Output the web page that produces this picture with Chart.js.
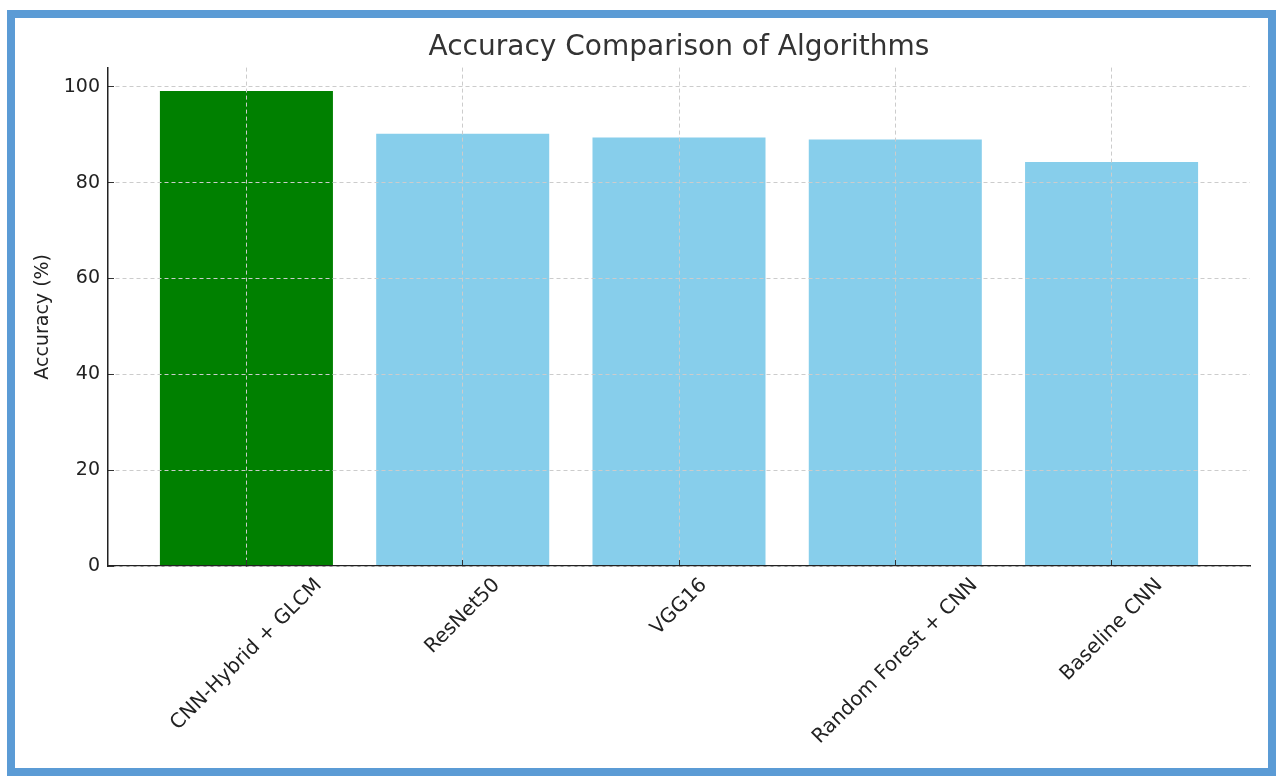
<!DOCTYPE html>
<html>
<head>
<meta charset="utf-8">
<title>Accuracy Comparison of Algorithms</title>
<script src="https://cdn.jsdelivr.net/npm/chart.js@4"></script>
<style>
  html, body { margin: 0; padding: 0; background: #fff; }
  #wrap { position: relative; width: 1278px; height: 777px; }
  #frame {
    position: absolute; left: 7px; top: 10px; width: 1269px; height: 766px;
    box-sizing: border-box; border: 8px solid #5b9bd5; pointer-events: none;
  }
</style>
</head>
<body>
<div id="wrap">
  <canvas id="myCanvas"></canvas>
  <div id="frame"></div>
</div>
<script>
'use strict';

// data
const categories = ['CNN-Hybrid + GLCM', 'ResNet50', 'VGG16', 'Random Forest + CNN', 'Baseline CNN'];
const accuracy = [99.1, 90.2, 89.4, 89.0, 84.3];
const yTickValues = [0, 20, 40, 60, 80, 100];

const barColors = ['#008000', '#87ceeb', '#87ceeb', '#87ceeb', '#87ceeb'];
const font = 'DejaVu Sans';

// x labels drawn centred under each tick and turned 45 degrees
const xLabels = {
  id: 'xLabels',
  afterDraw(chart) {
    const ctx = chart.ctx;
    const xs = chart.scales.x;
    const top = chart.chartArea.bottom + 8;
    ctx.save();
    ctx.font = '20px "' + font + '"';
    ctx.fillStyle = '#222';
    ctx.textAlign = 'center';
    ctx.textBaseline = 'middle';
    xs.ticks.forEach((t) => {
      const text = categories[t.value];
      const w = ctx.measureText(text).width;
      const h = 23;
      const boxH = (w + h) * Math.SQRT1_2;
      ctx.save();
      ctx.translate(xs.getPixelForValue(t.value), top + boxH / 2);
      ctx.rotate(-Math.PI / 4);
      ctx.fillText(text, 0, 0);
      ctx.restore();
    });
    ctx.restore();
  }
};

const ctx = document.getElementById('myCanvas').getContext('2d');

new Chart(ctx, {
  type: 'bar',
  data: {
    datasets: [{
      label: 'Accuracy (%)',
      data: accuracy.map((v, i) => ({ x: i, y: v })),
      backgroundColor: barColors,
      borderWidth: 0,
      barPercentage: 0.8,
      categoryPercentage: 1
    }]
  },
  options: {
    responsive: true,
    maintainAspectRatio: false,
    animation: false,
    layout: { padding: { left: 0, right: 28, top: 0, bottom: 0 } },
    plugins: {
      legend: { display: false },
      tooltip: { enabled: false },
      title: {
        display: true,
        fullSize: false,
        text: 'Accuracy Comparison of Algorithms',
        color: '#333',
        font: { family: font, size: 28, weight: 'normal' },
        padding: { top: 31, bottom: 3 }
      }
    },
    scales: {
      x: {
        type: 'linear',
        min: -0.64,
        max: 4.64,
        offset: false,
        afterBuildTicks: (s) => { s.ticks = categories.map((c, i) => ({ value: i })); },
        afterFit: (s) => { s.height = 211; },
        ticks: { display: false },
        grid: {
          offset: false,
          color: '#cccccc',
          lineWidth: 1,
          z: 1,
          tickLength: -6,
          tickColor: '#333',
          tickWidth: 1
        },
        border: { color: '#222', width: 1.5, dash: [4, 3], z: 1 }
      },
      y: {
        min: 0,
        max: 104,
        afterBuildTicks: (s) => { s.ticks = yTickValues.map((v) => ({ value: v })); },
        afterFit: (s) => { s.width = 108; },
        ticks: {
          color: '#222',
          font: { family: font, size: 19 },
          padding: 14
        },
        grid: {
          color: '#cccccc',
          lineWidth: 1,
          z: 1,
          tickLength: -6,
          tickColor: '#333',
          tickWidth: 1
        },
        border: { color: '#222', width: 1.5, dash: [4, 3], z: 1 },
        title: {
          display: true,
          text: 'Accuracy (%)',
          color: '#222',
          font: { family: font, size: 19 },
          padding: { top: 32, bottom: 0 }
        }
      }
    }
  },
  plugins: [xLabels]
});
</script>
</body>
</html>
